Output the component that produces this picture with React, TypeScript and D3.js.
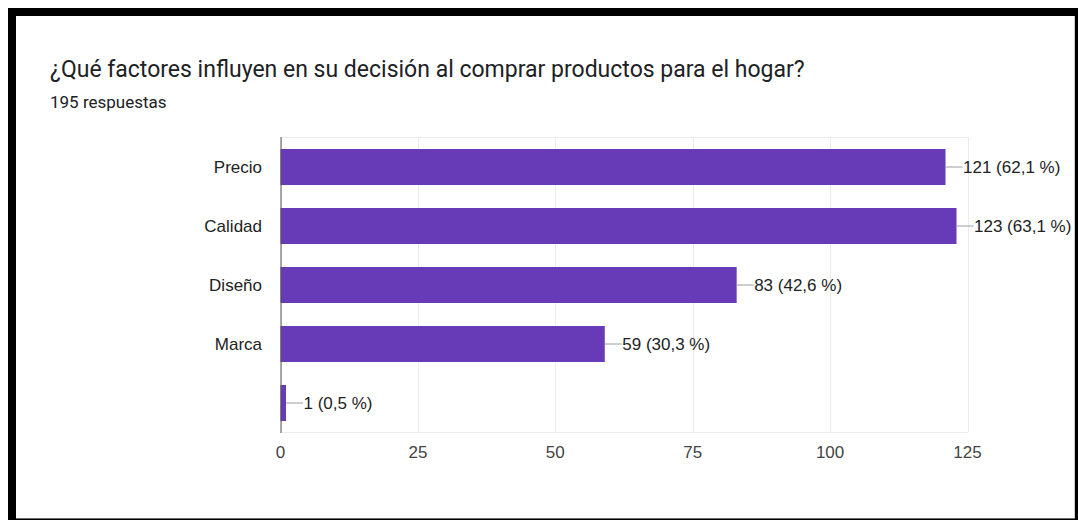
import React from "react";
import * as d3 from "d3";

const title = "¿Qué factores influyen en su decisión al comprar productos para el hogar?";
const subtitle = "195 respuestas";
const categories = ["Precio", "Calidad", "Diseño", "Marca", ""];
const counts = [121, 123, 83, 59, 1];
const percents = ["62,1", "63,1", "42,6", "30,3", "0,5"];
const xTicks = [0, 25, 50, 75, 100, 125];

const W = 1078;
const H = 520;
const plot = { left: 280.5, right: 967.5, top: 137, bottom: 432 };
const BAR = "#673ab7";
const LABEL_FONT = "Arial, 'Liberation Sans', sans-serif";
const TITLE_FONT = "Roboto, 'Noto Sans', sans-serif";

export default function App() {
  const x = d3.scaleLinear().domain([0, 125]).range([plot.left, plot.right]);
  const y = d3
    .scaleBand<string>()
    .domain(categories.map((c, i) => String(i)))
    .range([plot.top + 0.5, plot.bottom + 0.5])
    .paddingInner(0.39)
    .paddingOuter(0.195);

  return (
    <div style={{ position: "absolute", left: 0, top: 0 }}>
      <svg width={W} height={H} style={{ display: "block" }}>
        <rect x={0} y={0} width={W} height={H} fill="#fff" />
        <rect x={8} y={8} width={W - 8} height={H - 8} fill="#000" />
        <rect x={16} y={16} width={1058} height={502} fill="#fff" />
        <line x1={1074.5} x2={1074.5} y1={16} y2={518} stroke="#cfcfcf" />
        <line x1={16} x2={1075} y1={518.5} y2={518.5} stroke="#6b6b6b" />

        <text x={50} y={76.5} fontFamily={TITLE_FONT} fontSize={23} fill="#202124">
          {title}
        </text>
        <text x={50} y={108} fontFamily={TITLE_FONT} fontSize={17} fill="#202124">
          {subtitle}
        </text>

        {/* gridlines */}
        {xTicks.map((t) => (
          <line
            key={"g" + t}
            x1={Math.round(x(t)) + 0.5}
            x2={Math.round(x(t)) + 0.5}
            y1={plot.top}
            y2={plot.bottom}
            stroke="#ebebeb"
          />
        ))}
        <line x1={plot.left} x2={plot.right} y1={plot.top + 0.5} y2={plot.top + 0.5} stroke="#ebebeb" />
        <line x1={plot.left} x2={plot.right} y1={plot.bottom + 0.5} y2={plot.bottom + 0.5} stroke="#ebebeb" />

        {/* bars */}
        {counts.map((v, i) => {
          const yy = y(String(i))!;
          const bh = y.bandwidth();
          const x1 = x(v);
          const cy = yy + bh / 2;
          return (
            <g key={"b" + i}>
              <rect x={plot.left} y={yy} width={x1 - plot.left} height={bh} fill={BAR} />
              <line x1={x1} x2={x1 + 17} y1={cy} y2={cy} stroke="#9e9e9e" />
              <text
                x={x1 + 17.5}
                y={cy}
                dy="0.35em"
                fontFamily={LABEL_FONT}
                fontSize={17}
                fill="#222"
              >
                {`${v} (${percents[i]} %)`}
              </text>
              <text
                x={262}
                y={cy}
                dy="0.35em"
                textAnchor="end"
                fontFamily={LABEL_FONT}
                fontSize={17}
                fill="#222"
              >
                {categories[i]}
              </text>
            </g>
          );
        })}

        {/* axis line */}
        <line x1={plot.left + 0.5} x2={plot.left + 0.5} y1={plot.top} y2={plot.bottom + 1} stroke="#555" />

        {/* tick labels */}
        {xTicks.map((t) => (
          <text
            key={"t" + t}
            x={x(t)}
            y={452}
            dy="0.35em"
            textAnchor="middle"
            fontFamily={LABEL_FONT}
            fontSize={17}
            fill="#444"
          >
            {t}
          </text>
        ))}
      </svg>
    </div>
  );
}
